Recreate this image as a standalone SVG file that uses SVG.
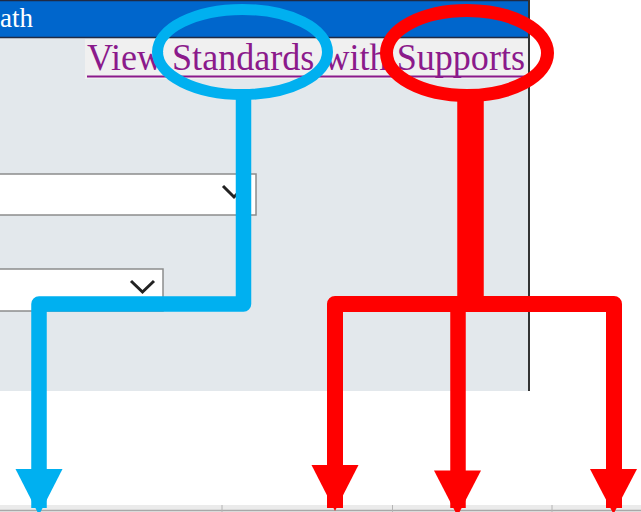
<svg xmlns="http://www.w3.org/2000/svg" width="641" height="512" viewBox="0 0 641 512">
  <style>
    .title { font-family: "Liberation Serif", "Times New Roman", serif; fill: #ffffff; }
    .link { font-family: "Liberation Serif", "Times New Roman", serif; fill: #8b1a8b; }
    .box { fill: #ffffff; stroke: #8c8c8c; stroke-width: 1.5; }
    .chev { fill: none; stroke: #222222; stroke-width: 3; stroke-linejoin: miter; }
    .blue { fill: none; stroke: #00b0f0; }
    .red { fill: none; stroke: #ff0000; }
    .bluefill { fill: #00b0f0; }
    .redfill { fill: #ff0000; }
  </style>

  <rect width="641" height="512" fill="#ffffff"/>

  <!-- form panel -->
  <g id="panel">
    <rect x="0" y="38" width="529" height="353" fill="#e3e8ec"/>
    <rect x="0" y="0" width="529" height="38" fill="#0066cc"/>
    <line x1="0" y1="0.5" x2="529" y2="0.5" stroke="#1f2a44" stroke-width="1.5"/>
    <line x1="0" y1="37.5" x2="529" y2="37.5" stroke="#1f2a44" stroke-width="1.5"/>
    <text class="title" x="0" y="27" font-size="27">ath</text>
    <rect x="85" y="39" width="443" height="40" fill="#f0f0f0"/>
    <text class="link" x="87" y="70" font-size="37" textLength="438" lengthAdjust="spacingAndGlyphs">View Standards with Supports</text>
    <rect x="87" y="75.5" width="438" height="2" fill="#8b1a8b"/>
    <line x1="529" y1="0" x2="529" y2="391" stroke="#333333" stroke-width="2"/>
  </g>

  <g id="dropdown-1">
    <rect class="box" x="-2" y="174" width="258" height="41"/>
    <polyline class="chev" points="223,186 234,197 245,186"/>
  </g>

  <g id="dropdown-2">
    <rect class="box" x="-2" y="269" width="165" height="42"/>
    <polyline class="chev" points="131,281 142.5,292 154,281"/>
  </g>

  <!-- table header strip along the bottom edge -->
  <g id="table-header">
    <rect x="0" y="505" width="641" height="7" fill="#ebebeb"/>
    <line x1="0" y1="510.5" x2="641" y2="510.5" stroke="#a8a8a8" stroke-width="1.5"/>
    <g stroke="#b4b4b4" stroke-width="1">
      <line x1="222" y1="505" x2="222" y2="512"/>
      <line x1="392.5" y1="505" x2="392.5" y2="512"/>
      <line x1="552" y1="505" x2="552" y2="512"/>
    </g>
  </g>

  <!-- highlight rings -->
  <g id="callout-standards">
    <ellipse class="blue" cx="242.5" cy="52" rx="85" ry="42.5" stroke-width="11"/>
  </g>
  <g id="callout-supports">
    <ellipse class="red" cx="467" cy="53" rx="80.5" ry="42.5" stroke-width="13"/>
  </g>

  <!-- connectors -->
  <g id="connectors" stroke-linejoin="round">
    <polyline class="blue" points="243.5,95 243.5,304 39,304 39,508" stroke-width="15.5"/>
    <polygon class="bluefill" points="15.5,469 62.5,469 39,515"/>

    <line class="red" x1="470.5" y1="95" x2="470.5" y2="304" stroke-width="26.5"/>
    <polyline class="red" points="335,508 335,304 614,304 614,508" stroke-width="16"/>
    <line class="red" x1="458" y1="304" x2="458" y2="508" stroke-width="15.5"/>
    <polygon class="redfill" points="311.5,465 358.5,465 335,511"/>
    <polygon class="redfill" points="434,470.5 481,470.5 457.5,516"/>
    <polygon class="redfill" points="590,469 637,469 613.5,514"/>
  </g>
</svg>
